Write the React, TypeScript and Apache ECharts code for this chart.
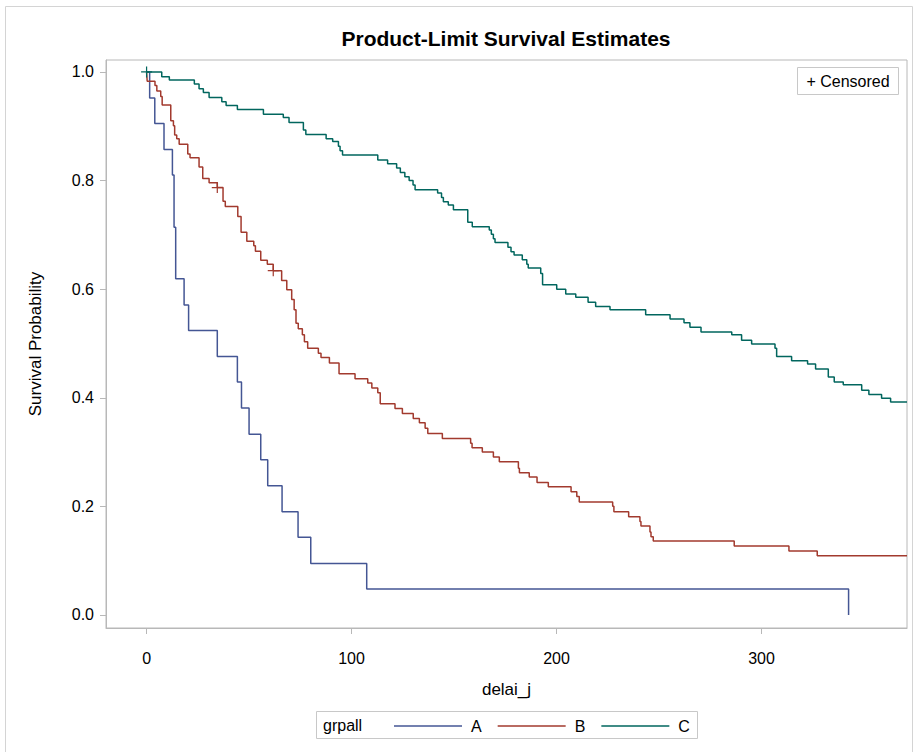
import React, { useEffect, useRef } from "react";
import * as echarts from "echarts";

const xTicks = [0, 100, 200, 300];
const yTicks = [0, 0.2, 0.4, 0.6, 0.8, 1.0];
const groups = ["A", "B", "C"];
const colors = ["#445694", "#A23A2E", "#01665E"];

const timeA = [0, 1.5, 4, 8.5, 12.6, 13.4, 14.2, 18.3, 20.5, 34.5, 44.3, 46.3, 50, 55.7, 59.1, 66.1, 73.9, 80.1, 107.4, 342.5];
const survA = [1, 0.952, 0.905, 0.857, 0.81, 0.714, 0.619, 0.571, 0.524, 0.476, 0.429, 0.381, 0.333, 0.286, 0.238, 0.19, 0.143, 0.095, 0.048, 0];

const timeB = [0, 0.3, 4.1, 5.0, 6.9, 7.6, 11.8, 13.1, 13.7, 14.7, 15.9, 20.1, 21.2, 25.6, 27.4, 30.5, 34.5, 37.3, 38.4, 44.5, 46.1, 48.9, 52.3, 53.1, 55.7, 58.9, 61.8, 65.9, 68.4, 70.8, 72.0, 72.9, 74.0, 76.0, 77.0, 78.6, 83.8, 85.1, 89.2, 93.9, 101.7, 107.9, 109.9, 112.8, 114.0, 121.2, 124.8, 130.1, 133.1, 135.9, 137.2, 144.3, 158.1, 158.8, 163.8, 169.2, 172.1, 181.4, 181.9, 186.7, 190.5, 196.0, 207.1, 209.9, 211.1, 227.4, 228.0, 235.2, 240.7, 241.2, 245.6, 246.1, 247.2, 286.7, 313.4, 327.2, 371];
const survB = [1, 0.983, 0.975, 0.965, 0.955, 0.939, 0.91, 0.901, 0.884, 0.877, 0.867, 0.849, 0.842, 0.825, 0.804, 0.796, 0.787, 0.762, 0.752, 0.734, 0.705, 0.688, 0.68, 0.67, 0.653, 0.646, 0.634, 0.616, 0.599, 0.581, 0.562, 0.537, 0.527, 0.516, 0.503, 0.491, 0.482, 0.474, 0.464, 0.444, 0.435, 0.427, 0.418, 0.409, 0.389, 0.38, 0.371, 0.362, 0.354, 0.344, 0.334, 0.325, 0.316, 0.308, 0.3, 0.291, 0.282, 0.27, 0.262, 0.254, 0.244, 0.236, 0.227, 0.218, 0.208, 0.2, 0.19, 0.181, 0.172, 0.164, 0.153, 0.144, 0.136, 0.127, 0.118, 0.109, 0.109];

const timeC = [0, 7.4, 11.1, 23.3, 25.6, 27.7, 30.5, 36.7, 38.8, 44.3, 57.0, 66.7, 69.5, 76.5, 77.7, 87.6, 90.8, 93.6, 94.4, 95.6, 112.8, 117.6, 122.0, 123.8, 126.0, 128.1, 130.0, 131.0, 142.0, 143.9, 144.8, 147.2, 149.7, 156.7, 158.9, 167.2, 168.2, 169.2, 170.0, 176.3, 177.8, 179.3, 183.3, 185.5, 186.2, 192.3, 193.2, 200.1, 204.5, 209.4, 215.4, 219.1, 226.1, 243.5, 255.4, 262.2, 265.1, 270.5, 285.5, 290.3, 295.2, 306.6, 307.4, 314.7, 322.5, 326.4, 332.6, 335.5, 339.9, 348.9, 352.4, 358.6, 363.0, 371];
const survC = [1, 0.991, 0.985, 0.978, 0.969, 0.962, 0.953, 0.945, 0.938, 0.931, 0.922, 0.916, 0.907, 0.893, 0.885, 0.877, 0.872, 0.863, 0.855, 0.847, 0.838, 0.831, 0.823, 0.815, 0.807, 0.8, 0.792, 0.783, 0.777, 0.769, 0.761, 0.755, 0.746, 0.723, 0.715, 0.709, 0.701, 0.693, 0.686, 0.677, 0.669, 0.663, 0.654, 0.646, 0.639, 0.629, 0.608, 0.6, 0.591, 0.585, 0.576, 0.568, 0.562, 0.553, 0.545, 0.538, 0.53, 0.521, 0.516, 0.506, 0.499, 0.491, 0.476, 0.468, 0.462, 0.453, 0.438, 0.429, 0.424, 0.414, 0.406, 0.399, 0.392, 0.392];

const censorTimeB = [34.5, 61.8];
const censorSurvB = [0.787, 0.634];
const censorTimeC = [0];
const censorSurvC = [1];

const FONT = "'Liberation Sans', Arial, sans-serif";
const PLUS = "path://M4.45,0H5.55V4.45H10V5.55H5.55V10H4.45V5.55H0V4.45H4.45Z";

const zip = (t: number[], s: number[]) => t.map((v, i) => [v, s[i]]);

export default function App() {
  const ref = useRef<HTMLDivElement>(null);
  useEffect(() => {
    if (!ref.current) return;
    const chart = echarts.init(ref.current, null, { renderer: "svg" });
    const times = [timeA, timeB, timeC];
    const survs = [survA, survB, survC];
    const lineSeries = groups.map((g, i) => ({
      name: g,
      type: "line",
      step: "end",
      data: zip(times[i], survs[i]),
      symbol: "none",
      showSymbol: false,
      lineStyle: { color: colors[i], width: 1.5 },
      itemStyle: { color: colors[i] },
      clip: true,
      z: 3,
    }));
    const censorSeries = [
      { t: censorTimeB, s: censorSurvB, c: colors[1] },
      { t: censorTimeC, s: censorSurvC, c: colors[2] },
    ].map((d) => ({
      type: "scatter",
      data: zip(d.t, d.s),
      symbol: PLUS,
      symbolSize: 11,
      itemStyle: { color: d.c, opacity: 1 },
      clip: false,
      z: 4,
      silent: true,
    }));

    chart.setOption({
      animation: false,
      backgroundColor: "#ffffff",
      title: {
        text: "Product-Limit Survival Estimates",
        left: 501,
        top: 23,
        textAlign: "center",
        textStyle: { fontFamily: FONT, fontSize: 21, fontWeight: "bold", color: "#000" },
      },
      grid: {
        left: 106,
        right: 8,
        top: 60,
        bottom: 124,
        show: true,
        borderColor: "#b8b8b8",
        borderWidth: 1,
        backgroundColor: "transparent",
      },
      legend: {
        data: groups,
        left: 389,
        top: 713,
        icon: "rect",
        itemWidth: 68,
        itemHeight: 1.5,
        itemGap: 16,
        textStyle: { fontFamily: FONT, fontSize: 16, color: "#000", padding: [0, 0, 0, 4] },
      },
      xAxis: {
        type: "value",
        min: -19.8,
        max: 371,
        name: "delai_j",
        nameLocation: "middle",
        nameGap: 53,
        nameTextStyle: { fontFamily: FONT, fontSize: 17, color: "#000" },
        splitLine: { show: false },
        axisLine: { show: true, onZero: false, lineStyle: { color: "#b8b8b8" } },
        axisTick: { show: true, inside: false, length: 6, lineStyle: { color: "#b8b8b8" }, customValues: xTicks },
        axisLabel: { fontFamily: FONT, fontSize: 16, color: "#000", margin: 22, customValues: xTicks },
      },
      yAxis: {
        type: "value",
        min: -0.024,
        max: 1.022,
        name: "Survival Probability",
        nameLocation: "middle",
        nameGap: 62,
        nameRotate: 90,
        nameTextStyle: { fontFamily: FONT, fontSize: 17, color: "#000" },
        splitLine: { show: false },
        axisLine: { show: true, onZero: false, lineStyle: { color: "#b8b8b8" } },
        axisTick: { show: true, inside: false, length: 6, lineStyle: { color: "#b8b8b8" }, customValues: yTicks },
        axisLabel: {
          fontFamily: FONT,
          fontSize: 16,
          color: "#000",
          margin: 12,
          customValues: yTicks,
          formatter: (v: number) => v.toFixed(1),
        },
      },
      graphic: [
        {
          type: "rect",
          silent: true,
          shape: { x: 5.5, y: 6.5, width: 907, height: 800 },
          style: { fill: "none", stroke: "#d4d4d4", lineWidth: 1 },
          z: 0,
        },
        {
          type: "rect",
          silent: true,
          shape: { x: 797.5, y: 67.5, width: 101, height: 27 },
          style: { fill: "#fff", stroke: "#c8c8c8", lineWidth: 1 },
          z: 10,
        },
        {
          type: "text",
          silent: true,
          x: 848,
          y: 81,
          style: { text: "+ Censored", fontFamily: FONT, fontSize: 16, fill: "#000", align: "center", verticalAlign: "middle" },
          z: 11,
        },
        {
          type: "rect",
          silent: true,
          shape: { x: 316.5, y: 711.5, width: 381, height: 27 },
          style: { fill: "none", stroke: "#c8c8c8", lineWidth: 1 },
          z: 10,
        },
        {
          type: "text",
          silent: true,
          x: 323,
          y: 725,
          style: { text: "grpall", fontFamily: FONT, fontSize: 16, fill: "#000", align: "left", verticalAlign: "middle" },
          z: 11,
        },
      ],
      series: [...lineSeries, ...censorSeries],
    });
    return () => chart.dispose();
  }, []);
  return <div ref={ref} style={{ position: "absolute", left: 0, top: 0, width: 915, height: 752 }} />;
}
